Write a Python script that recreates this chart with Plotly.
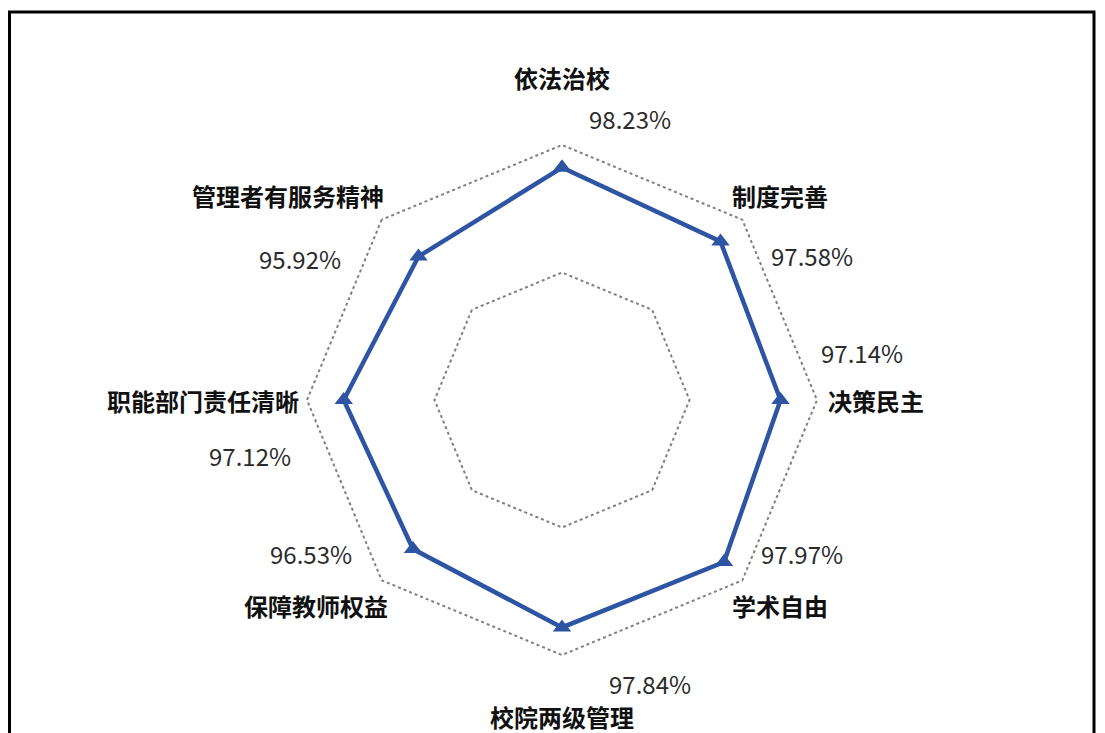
import plotly.graph_objects as go

categories = ["依法治校", "制度完善", "决策民主", "学术自由",
              "校院两级管理", "保障教师权益", "职能部门责任清晰", "管理者有服务精神"]
values = [98.23, 97.58, 97.14, 97.97, 97.84, 96.53, 97.12, 95.92]
value_labels = [f"{v:.2f}%" for v in values]
radial_range = [80, 100.6]
grid_vals = [90, 100]

W, H = 1105, 733
cx, cy = 562, 400
R = 255 * (radial_range[1] - radial_range[0]) / (grid_vals[-1] - radial_range[0])

# label placement (layout only), pixel centres from the top-left corner
cat_label_px = [(562, 78), (780, 195), (876, 400), (780, 605),
                (562, 716), (316, 605), (203, 400), (288, 195)]
val_label_px = [(630, 118), (812, 255), (862, 352), (802, 553),
                (650, 683), (311, 553), (250, 455), (300, 258)]

BLUE = "#2E54A4"

fig = go.Figure()
fig.add_trace(go.Scatterpolar(
    r=values + values[:1],
    theta=categories + categories[:1],
    mode="lines+markers",
    line=dict(color=BLUE, width=4.5),
    marker=dict(symbol="triangle-up", size=16, color=BLUE),
    cliponaxis=False,
    showlegend=False,
    hovertemplate="%{theta}: %{r:.2f}%<extra></extra>",
))

annotations = []
for name, (x, y) in zip(categories, cat_label_px):
    annotations.append(dict(
        text=f"<b>{name}</b>", x=x / W, y=1 - y / H, xref="paper", yref="paper",
        xanchor="center", yanchor="middle", showarrow=False,
        font=dict(family="Noto Sans CJK SC", size=24, color="#111111")))
for lab, (x, y) in zip(value_labels, val_label_px):
    annotations.append(dict(
        text=lab, x=x / W, y=1 - y / H, xref="paper", yref="paper",
        xanchor="center", yanchor="middle", showarrow=False,
        font=dict(family="Noto Sans CJK SC", size=24, color="#2b2b2b")))

fig.update_layout(
    width=W, height=H,
    margin=dict(l=0, r=0, t=0, b=0),
    paper_bgcolor="white",
    plot_bgcolor="white",
    polar=dict(
        domain=dict(x=[(cx - R) / W, (cx + R) / W],
                    y=[(H - cy - R) / H, (H - cy + R) / H]),
        bgcolor="white",
        gridshape="linear",
        radialaxis=dict(range=radial_range, tickvals=grid_vals,
                        showticklabels=False, ticks="", showline=False,
                        gridcolor="#808080", gridwidth=2, griddash="dot"),
        angularaxis=dict(type="category", direction="clockwise", rotation=90,
                         showline=False, showgrid=False, ticks="",
                         showticklabels=False),
    ),
    annotations=annotations,
    shapes=[dict(type="rect", xref="paper", yref="paper",
                 x0=9.5 / W, x1=1094 / W, y0=-0.05, y1=1 - 12 / H,
                 line=dict(color="black", width=3))],
)

fig.write_html("out.html", config={"displayModeBar": False},
               post_script="document.body.style.margin='0';")
